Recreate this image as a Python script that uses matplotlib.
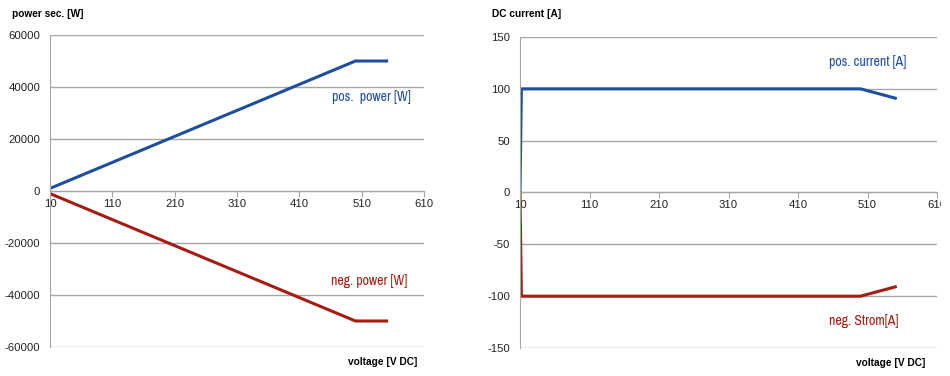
import matplotlib.pyplot as plt
from matplotlib.transforms import Bbox

# voltage points [V DC]
voltage = [10, 500, 550]
pos_power = [1000, 50000, 50000]
neg_power = [-1000, -50000, -50000]

volt_cur = [10, 12, 500, 550]
pos_current = [0, 100, 100, 91]
neg_current = [0, -100, -100, -91]

xticks = [10, 110, 210, 310, 410, 510, 610]
power_ticks = [-60000, -40000, -20000, 0, 20000, 40000, 60000]
current_ticks = [-150, -100, -50, 0, 50, 100, 150]

blue = '#1f4e9e'
red = '#a51c12'
grid_col = '#a6a6a6'

plt.rcParams['font.family'] = ['Liberation Sans', 'DejaVu Sans']
plt.rcParams['axes.unicode_minus'] = False
narrow = ['Archivo Narrow', 'Liberation Sans']

fig = plt.figure(figsize=(9.5, 3.76), dpi=100)
ax1 = fig.add_axes([50/950, 1-347/376, 374/950, 312/376])
ax2 = fig.add_axes([520/950, 1-348/376, 417/950, 311/376])


def style(ax, yticks):
    ax.set_xlim(10, 610)
    ax.set_ylim(yticks[0], yticks[-1])
    ax.set_yticks(yticks)
    ax.set_xticks(xticks)
    for y in yticks:
        ax.axhline(y, color=grid_col, lw=1.0, zorder=0)
    for s in ['top', 'right']:
        ax.spines[s].set_visible(False)
    ax.spines['left'].set_color(grid_col)
    ax.spines['bottom'].set_color(grid_col)
    ax.spines['bottom'].set_position(('data', 0))
    ax.tick_params(axis='x', direction='out', length=4, color=grid_col,
                   labelsize=8.2, pad=1.5)
    ax.tick_params(axis='y', length=0, labelsize=8.2, pad=7)
    for lab in ax.get_xticklabels() + ax.get_yticklabels():
        lab.set_color('#222222')


style(ax1, power_ticks)
ax1.plot(voltage, pos_power, color=blue, lw=2.2, solid_joinstyle='miter')
ax1.plot(voltage, neg_power, color=red, lw=2.2, solid_joinstyle='miter')
ax1.text(463, 36000, 'pos.  power [W]', color=blue, fontsize=10, va='center',
         family=narrow)
ax1.text(461, -34500, 'neg. power [W]', color=red, fontsize=10, va='center',
         family=narrow)

style(ax2, current_ticks)
ax2.plot(volt_cur, pos_current, color=blue, lw=2.2)
ax2.plot(volt_cur, neg_current, color=red, lw=2.2)
ax2.text(454, 126, 'pos. current [A]', color=blue, fontsize=10, va='center',
         family=narrow)
ax2.text(454, -124, 'neg. Strom[A]', color=red, fontsize=10, va='center',
         family=narrow)

# axis titles
for x, y, s in [(12, 14, 'power sec. [W]'), (492, 14, 'DC current [A]'),
                (348, 362, 'voltage [V DC]'), (856, 363, 'voltage [V DC]')]:
    fig.text(x/950, 1-y/376, s, fontsize=7.3, fontweight='bold', va='center')

# last tick label of the right chart is cut off at the image edge
fig.canvas.draw()
last = ax2.get_xticklabels()[-1]
last.set_clip_on(True)
last.set_clip_box(Bbox.from_extents(0, 0, 941, 376))

fig.savefig('out.png', dpi=100)
